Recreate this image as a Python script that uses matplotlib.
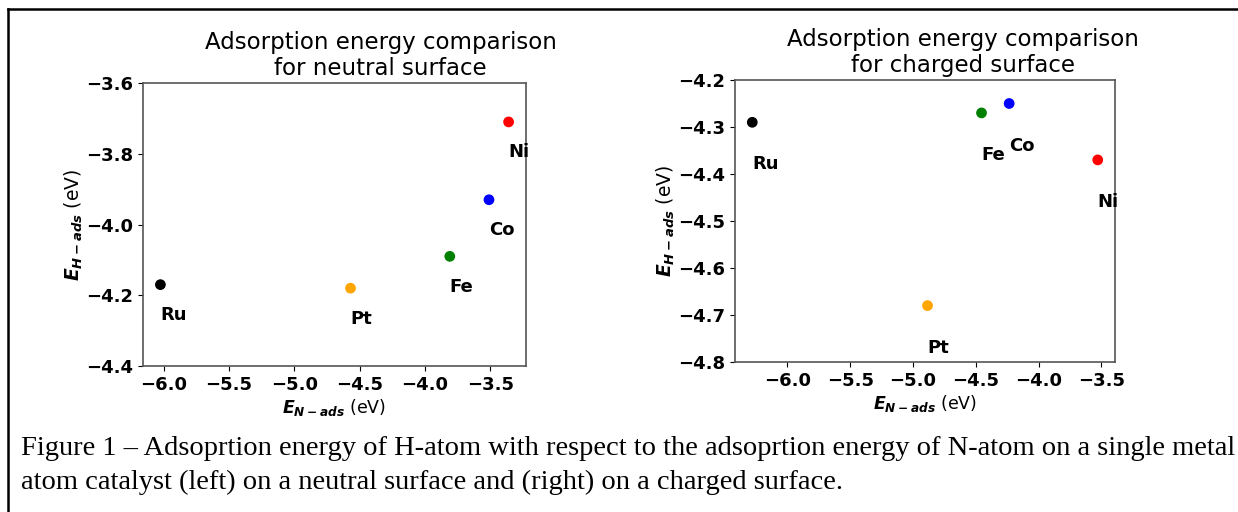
import matplotlib
matplotlib.use("Agg")
import matplotlib.pyplot as plt
from matplotlib.lines import Line2D

# bold italic symbols in the axis labels
plt.rcParams['mathtext.fontset'] = 'custom'
plt.rcParams['mathtext.it'] = 'DejaVu Sans:italic:bold'
plt.rcParams['mathtext.rm'] = 'DejaVu Sans:bold'
plt.rcParams['mathtext.bf'] = 'DejaVu Sans:bold'

# metals and colours
metals = ['Ru', 'Pt', 'Fe', 'Co', 'Ni']
colors = ['black', 'orange', 'green', 'blue', 'red']

# neutral surface
e_n_neutral = [-6.025, -4.57, -3.81, -3.51, -3.36]
e_h_neutral = [-4.17, -4.18, -4.09, -3.93, -3.71]

# charged surface
e_n_charged = [-6.28, -4.885, -4.455, -4.235, -3.53]
e_h_charged = [-4.29, -4.68, -4.27, -4.25, -4.37]

W, H = 1238, 512
fig = plt.figure(figsize=(W / 100, H / 100), dpi=100)

def panel(rect, xs, ys, title, ylim, title_x):
    ax = fig.add_axes(rect)
    ax.scatter(xs, ys, c=colors, s=45, zorder=3)
    for m, x, y in zip(metals, xs, ys):
        ax.text(x, y - 0.1, m, fontsize=13, fontweight='bold')
    ax.set_ylim(*ylim)
    ax.set_title(title, fontsize=16.5, x=title_x, pad=5.5)
    ax.set_xlabel(r'$E_{N-ads}$ (eV)', fontsize=12.5, labelpad=2)
    ax.set_ylabel(r'$E_{H-ads}$ (eV)', fontsize=13.5, labelpad=1)
    ax.tick_params(labelsize=13)
    for lab in ax.get_xticklabels() + ax.get_yticklabels():
        lab.set_fontweight('bold')
    for sp in ax.spines.values():
        sp.set_color('#555555')
        sp.set_linewidth(1.2)
    return ax

ax1 = panel([143 / W, 146 / H, 383 / W, 283 / H], e_n_neutral, e_h_neutral,
            'Adsorption energy comparison\nfor neutral surface', (-4.4, -3.6), 0.62)
ax1.set_yticks([-4.4, -4.2, -4.0, -3.8, -3.6])

ax2 = panel([735 / W, 150 / H, 380 / W, 282 / H], e_n_charged, e_h_charged,
            'Adsorption energy comparison\nfor charged surface', (-4.8, -4.2), 0.60)

# frame of the document box
fig.add_artist(Line2D([8 / W, 8 / W], [0, 1 - 9 / H], color='black', lw=1.8,
                      transform=fig.transFigure))
fig.add_artist(Line2D([8 / W, 1], [1 - 9 / H, 1 - 9 / H], color='black', lw=1.8,
                      transform=fig.transFigure))

cap1 = ('Figure 1 \u2013 Adsoprtion energy of H-atom with respect to the adsoprtion '
        'energy of N-atom on a single metal')
cap2 = 'atom catalyst (left) on a neutral surface and (right) on a charged surface.'
fig.text(21 / W, 1 - 455 / H, cap1, family='Liberation Serif', fontsize=20.5)
fig.text(21 / W, 1 - 489 / H, cap2, family='Liberation Serif', fontsize=20.5)

fig.savefig('out.png', dpi=100)
